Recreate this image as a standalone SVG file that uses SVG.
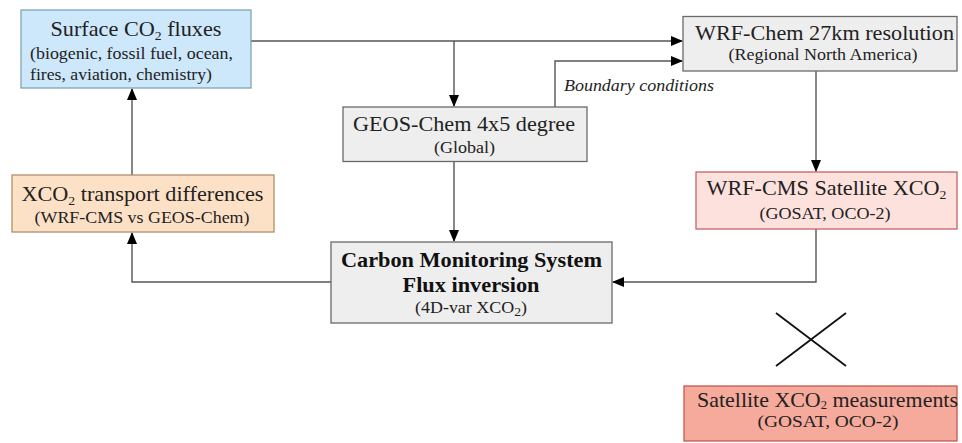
<svg xmlns="http://www.w3.org/2000/svg" width="962" height="443" viewBox="0 0 962 443">
<defs>
<marker id="ah" markerWidth="12" markerHeight="12" viewBox="0 0 12 12" refX="11" refY="6" orient="auto" markerUnits="userSpaceOnUse">
<path d="M0,1 L12,6 L0,11 Z" fill="#000"/>
</marker>
<style>
.box{stroke-width:1.3}
.gray{fill:#eeeeee;stroke:#6a6a6a}
.blue{fill:#cde7fb;stroke:#7fa6b6}
.peach{fill:#fde1c6;stroke:#b2906c}
.pink{fill:#fde1dd;stroke:#c46464}
.salmon{fill:#f5aa9c;stroke:#c45a50}
.t{font-family:"Liberation Serif","Times New Roman",serif;font-size:21px;fill:#222;text-anchor:middle}
.s{font-family:"Liberation Serif","Times New Roman",serif;font-size:17px;fill:#222;text-anchor:middle}
.b{font-weight:bold;fill:#111}
.sub{font-size:13px}
.lbl{font-family:"Liberation Serif","Times New Roman",serif;font-size:16px;font-style:italic;fill:#222}
.c{fill:none;stroke:#555;stroke-width:1.4}
.x{stroke:#111;stroke-width:1.8}
</style>
</defs>
<g id="connectors">
<path class="c" d="M251,41 H682" marker-end="url(#ah)"/>
<path class="c" d="M454,41 V106" marker-end="url(#ah)"/>
<path class="c" d="M555,107 V61 H682" marker-end="url(#ah)"/>
<path class="c" d="M816,71 V171" marker-end="url(#ah)"/>
<path class="c" d="M454,161 V241" marker-end="url(#ah)"/>
<path class="c" d="M816,229 V282 H613" marker-end="url(#ah)"/>
<path class="c" d="M331,282 H132 V233" marker-end="url(#ah)"/>
<path class="c" d="M132,175 V89" marker-end="url(#ah)"/>
<text class="lbl" x="564" y="91" textLength="150" lengthAdjust="spacingAndGlyphs">Boundary conditions</text>
</g>
<g id="surface">
<rect class="box blue" x="21" y="10" width="230" height="78"/>
<text class="t" x="136" y="36" textLength="171" lengthAdjust="spacingAndGlyphs">Surface CO<tspan class="sub" dy="4">2</tspan><tspan dy="-4"> fluxes</tspan></text>
<text class="s" x="131.5" y="58.5" textLength="203" lengthAdjust="spacingAndGlyphs">(biogenic, fossil fuel, ocean,</text>
<text class="s" x="121" y="79.5" textLength="182" lengthAdjust="spacingAndGlyphs">fires, aviation, chemistry)</text>
</g>
<g id="wrfchem">
<rect class="box gray" x="683" y="16.5" width="274" height="54.5"/>
<text class="t" x="824.5" y="40" textLength="259" lengthAdjust="spacingAndGlyphs">WRF-Chem 27km resolution</text>
<text class="s" x="823" y="59.5" textLength="189" lengthAdjust="spacingAndGlyphs">(Regional North America)</text>
</g>
<g id="geos">
<rect class="box gray" x="343" y="107" width="244" height="54.5"/>
<text class="t" x="464" y="130.5" textLength="222" lengthAdjust="spacingAndGlyphs">GEOS-Chem 4x5 degree</text>
<text class="s" x="464.5" y="152.5" textLength="61" lengthAdjust="spacingAndGlyphs">(Global)</text>
</g>
<g id="transport">
<rect class="box peach" x="12" y="175" width="262" height="57"/>
<text class="t" x="142.5" y="200.5" textLength="242" lengthAdjust="spacingAndGlyphs">XCO<tspan class="sub" dy="4">2</tspan><tspan dy="-4"> transport differences</tspan></text>
<text class="s" x="142" y="223" textLength="215" lengthAdjust="spacingAndGlyphs">(WRF-CMS vs GEOS-Chem)</text>
</g>
<g id="wrfcms">
<rect class="box pink" x="696" y="172" width="261" height="57"/>
<text class="t" x="826.5" y="195" textLength="240" lengthAdjust="spacingAndGlyphs">WRF-CMS Satellite XCO<tspan class="sub" dy="4">2</tspan></text>
<text class="s" x="825" y="218.5" textLength="131" lengthAdjust="spacingAndGlyphs">(GOSAT, OCO-2)</text>
</g>
<g id="cms">
<rect class="box gray" x="331" y="242" width="281" height="81"/>
<text class="t b" x="471.5" y="266.5" textLength="261" lengthAdjust="spacingAndGlyphs">Carbon Monitoring System</text>
<text class="t b" x="471" y="291.5" textLength="137" lengthAdjust="spacingAndGlyphs">Flux inversion</text>
<text class="s" x="471" y="312.5" textLength="112" lengthAdjust="spacingAndGlyphs">(4D-var XCO<tspan class="sub" dy="3">2</tspan><tspan dy="-3">)</tspan></text>
</g>
<g id="cross">
<line class="x" x1="776" y1="313" x2="846" y2="366"/>
<line class="x" x1="846" y1="313" x2="776" y2="366"/>
</g>
<g id="satellite">
<rect class="box salmon" x="684" y="386" width="273" height="55"/>
<text class="t" x="827.5" y="407" font-size="20" textLength="261" lengthAdjust="spacingAndGlyphs">Satellite XCO<tspan font-size="12" dy="2">2</tspan><tspan dy="-2"> measurements</tspan></text>
<text class="s" x="828" y="426.5" font-size="16" style="font-size:16px" textLength="141" lengthAdjust="spacingAndGlyphs">(GOSAT, OCO-2)</text>
</g>
</svg>
